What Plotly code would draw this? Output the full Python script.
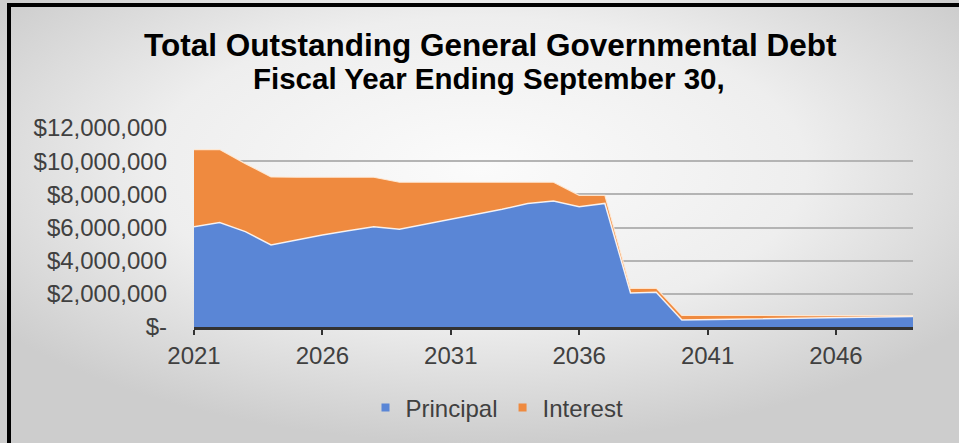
import base64
import plotly.graph_objects as go

# Fiscal years on the category axis
years = list(range(2021, 2050))

# Debt service by fiscal year (dollars)
principal = [
    6050000, 6300000, 5750000, 4950000, 5250000, 5550000, 5800000, 6050000,
    5900000, 6200000, 6500000, 6800000, 7100000, 7450000, 7600000, 7250000,
    7450000, 2050000, 2100000, 420000, 440000, 460000, 480000, 500000,
    520000, 540000, 570000, 600000, 630000,
]
interest = [
    4650000, 4400000, 4100000, 4100000, 3780000, 3480000, 3230000, 2980000,
    2830000, 2530000, 2230000, 1930000, 1630000, 1280000, 1130000, 690000,
    490000, 280000, 250000, 280000, 250000, 230000, 210000, 190000,
    170000, 150000, 120000, 90000, 60000,
]

# Axis ticks
y_ticks = [0, 2000000, 4000000, 6000000, 8000000, 10000000, 12000000]
y_tick_text = ["$-", "$2,000,000", "$4,000,000", "$6,000,000",
               "$8,000,000", "$10,000,000", "$12,000,000"]
x_ticks = [2021, 2026, 2031, 2036, 2041, 2046]

series_names = ["Principal", "Interest"]
series_fill = ["#5a86d6", "#ef8a3f"]

title_text = "<b>Total Outstanding General Governmental Debt</b>"
subtitle_text = "<b>Fiscal Year Ending September 30,</b>"

W, H = 959, 443
L, R, T, B = 194, 46, 128, 116
PW, PH = W - L - R, H - T - B


def px_x(x):
    return (x - L) / PW


def px_y(y):
    return (H - B - y) / PH


FONT = "Liberation Sans, Arial, sans-serif"
TXT = "#404040"

fig = go.Figure()
# Stacked areas
fig.add_trace(go.Scatter(
    x=years, y=principal, name=series_names[0], mode="lines",
    stackgroup="debt", fillcolor=series_fill[0], showlegend=False,
    line=dict(color="rgba(255,255,255,0.85)", width=1.5),
))
fig.add_trace(go.Scatter(
    x=years, y=interest, name=series_names[1], mode="lines",
    stackgroup="debt", fillcolor=series_fill[1], showlegend=False,
    line=dict(color="rgba(255,235,215,0.9)", width=1.2),
))
# Legend keys drawn as small squares
for name, color in zip(series_names, series_fill):
    fig.add_trace(go.Scatter(
        x=[None], y=[None], name=name, mode="markers",
        marker=dict(symbol="square", size=8, color=color),
        showlegend=True,
    ))

# Soft radial background behind the whole chart
svg = (
    f'<svg xmlns="http://www.w3.org/2000/svg" width="{W}" height="{H}">'
    '<defs><radialGradient id="g" cx="0.5" cy="0.38" r="0.62">'
    '<stop offset="0" stop-color="#fbfbfb"/>'
    '<stop offset="0.55" stop-color="#eeeeee"/>'
    '<stop offset="1" stop-color="#cdcdcd"/>'
    '</radialGradient></defs>'
    f'<rect width="{W}" height="{H}" fill="url(#g)"/></svg>'
)
bg_src = "data:image/svg+xml;base64," + base64.b64encode(svg.encode()).decode()

fig.update_layout(
    width=W, height=H, autosize=False,
    margin=dict(l=L, r=R, t=T, b=B, pad=0),
    paper_bgcolor="#e2e2e2", plot_bgcolor="rgba(0,0,0,0)",
    font=dict(family=FONT, color=TXT, size=24),
    showlegend=True,
    legend=dict(
        orientation="h", x=px_x(497), y=px_y(408),
        xanchor="center", yanchor="middle",
        font=dict(family=FONT, size=24, color=TXT),
        bgcolor="rgba(0,0,0,0)", traceorder="normal",
        itemwidth=30,
    ),
    images=[dict(
        source=bg_src, xref="paper", yref="paper",
        x=px_x(0), y=px_y(0), sizex=W / PW, sizey=H / PH,
        xanchor="left", yanchor="top", sizing="stretch", layer="below",
    )],
    annotations=[
        dict(text=title_text, xref="paper", yref="paper",
             x=px_x(490), y=px_y(45), xanchor="center", yanchor="middle",
             showarrow=False, font=dict(family=FONT, size=31.5, color="#000000")),
        dict(text=subtitle_text, xref="paper", yref="paper",
             x=px_x(489), y=px_y(79), xanchor="center", yanchor="middle",
             showarrow=False, font=dict(family=FONT, size=29.5, color="#000000")),
    ],
    shapes=[
        dict(type="line", xref="paper", yref="paper",
             x0=px_x(8), x1=px_x(W), y0=px_y(5), y1=px_y(5),
             line=dict(color="#000000", width=4)),
        dict(type="line", xref="paper", yref="paper",
             x0=px_x(9), x1=px_x(9), y0=px_y(3), y1=px_y(H),
             line=dict(color="#000000", width=4)),
    ],
)

fig.update_xaxes(
    range=[2021, 2049], tickvals=x_ticks, ticktext=[str(v) for v in x_ticks],
    showgrid=False, zeroline=False,
    showline=True, linecolor="#333333", linewidth=2.5,
    ticks="outside", ticklen=5, tickwidth=2, tickcolor="#333333",
    tickfont=dict(family=FONT, size=24, color=TXT),
    automargin=False,
)
fig.update_yaxes(
    range=[0, 12000000], tickvals=y_ticks, ticktext=y_tick_text,
    showgrid=True, gridcolor="#b4b4b4", gridwidth=1.5,
    zeroline=False, showline=False, ticks="",
    ticklabelstandoff=26,
    tickfont=dict(family=FONT, size=24, color=TXT),
    automargin=False,
)

fig.write_html("out.html")
